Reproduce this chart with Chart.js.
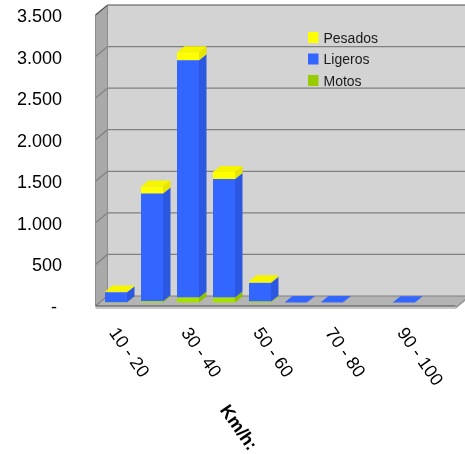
<!DOCTYPE html>
<html>
<head>
<meta charset="utf-8">
<style>
html, body { margin: 0; padding: 0; background: #fff; }
#chart_box { width: 465px; height: 454px; }
</style>
</head>
<body>
<div id="chart_box"><canvas id="myChart"></canvas></div>

<script src="https://cdn.jsdelivr.net/npm/chart.js"></script>
<script>
const categories = ['10 - 20', '20 - 30', '30 - 40', '40 - 50', '50 - 60', '60 - 70', '70 - 80', '80 - 90', '90 - 100', '100 - 110'];
const tickLabels = ['10 - 20', '', '30 - 40', '', '50 - 60', '', '70 - 80', '', '90 - 100', ''];
const motos = [3, 15, 60, 60, 12, 0, 0, 0, 0, 0];
const ligeros = [120, 1295, 2855, 1425, 225, 6, 5, 0, 4, 0];
const pesados = [10, 85, 95, 85, 20, 0, 0, 0, 0, 0];
const yTicks = { 0: '- ', 500: '500', 1000: '1.000', 1500: '1.500', 2000: '2.000', 2500: '2.500', 3000: '3.000', 3500: '3.500' };
const axisTitle = 'Km/h:';

const wallDepth = { x: 12, y: 10 };
const barShift = { x: 2.5, y: 3.5 };
const barDepth = { x: 7.5, y: 6 };
const labelAngle = 55 * Math.PI / 180;

function poly(c, pts, fill) {
  c.fillStyle = fill;
  c.beginPath();
  pts.forEach((p, i) => i ? c.lineTo(p[0], p[1]) : c.moveTo(p[0], p[1]));
  c.closePath();
  c.fill();
}

// back wall, side wall, floor and gridlines
const walls = {
  id: 'walls',
  beforeDatasetsDraw(chart) {
    const c = chart.ctx, a = chart.chartArea, y = chart.scales.y;
    const dx = wallDepth.x, dy = wallDepth.y;
    c.save();
    poly(c, [[a.left + dx, a.top - dy], [a.right + dx, a.top - dy], [a.right + dx, a.bottom - dy], [a.left + dx, a.bottom - dy]], '#d3d3d3');
    poly(c, [[a.left, a.top], [a.left + dx, a.top - dy], [a.left + dx, a.bottom - dy], [a.left, a.bottom]], '#a9a9a9');
    poly(c, [[a.left, a.bottom], [a.left + dx, a.bottom - dy], [a.right + dx, a.bottom - dy], [a.right, a.bottom]], '#b4b4b4');
    poly(c, [[a.left, a.bottom], [a.right, a.bottom], [a.right, a.bottom + 3], [a.left, a.bottom + 3]], '#c8c8c8');
    poly(c, [[a.right, a.bottom], [a.right + dx, a.bottom - dy], [a.right + dx, a.bottom - dy + 3], [a.right, a.bottom + 3]], '#9a9a9a');

    y.ticks.forEach(t => {
      const py = y.getPixelForValue(t.value);
      c.strokeStyle = t.value === 3500 ? '#505050' : '#808080';
      c.lineWidth = 1.2;
      c.beginPath();
      c.moveTo(a.left, py);
      c.lineTo(a.left + dx, py - dy);
      c.lineTo(a.right + dx, py - dy);
      c.stroke();
    });
    c.strokeStyle = '#8c8c8c';
    c.lineWidth = 1;
    c.beginPath();
    c.moveTo(a.left, a.top);
    c.lineTo(a.left, a.bottom);
    c.moveTo(a.left + dx, a.top - dy);
    c.lineTo(a.left + dx, a.bottom - dy);
    c.stroke();
    c.strokeStyle = '#505050';
    c.beginPath();
    c.moveTo(a.left, a.bottom);
    c.lineTo(a.right, a.bottom);
    c.stroke();
    c.restore();

    c.save();
    c.translate(barShift.x, -barShift.y);
  },
  // side and top faces of every stacked bar, still in the shifted frame
  afterDatasetsDraw(chart) {
    const c = chart.ctx;
    const dx = barDepth.x, dy = barDepth.y;
    const sets = chart.data.datasets;
    categories.forEach((_, i) => {
      let topSet = -1;
      sets.forEach((ds, k) => { if (ds.data[i] > 0) topSet = k; });
      sets.forEach((ds, k) => {
        if (!(ds.data[i] > 0)) return;
        const el = chart.getDatasetMeta(k).data[i];
        const r = el.x + el.width / 2, l = el.x - el.width / 2;
        poly(c, [[r, el.y], [r + dx, el.y - dy], [r + dx, el.base - dy], [r, el.base]], ds.sideColor);
        if (k === topSet) {
          poly(c, [[l, el.y], [l + dx, el.y - dy], [r + dx, el.y - dy], [r, el.y]], ds.topColor);
        }
      });
    });
    c.restore();
  },
  // rotated x labels, axis title and the legend inside the plot
  afterDraw(chart) {
    const c = chart.ctx, x = chart.scales.x;
    c.save();
    c.fillStyle = '#000';
    c.font = '18px "Liberation Sans"';
    c.textAlign = 'left';
    c.textBaseline = 'middle';
    tickLabels.forEach((label, i) => {
      if (!label) return;
      c.save();
      c.translate(x.getPixelForValue(i) - 1, 330);
      c.rotate(labelAngle);
      c.fillText(label, 0, 0);
      c.restore();
    });
    c.save();
    c.translate(238, 428);
    c.rotate(labelAngle);
    c.textAlign = 'center';
    c.font = 'bold 18px "Liberation Sans"';
    c.fillText(axisTitle, 0, 0);
    c.restore();

    c.font = '14px "Liberation Sans"';
    [...chart.data.datasets].reverse().forEach((ds, i) => {
      const ly = 37.5 + i * 21.5;
      c.fillStyle = ds.legendColor;
      c.fillRect(308, ly - 5.5, 10.5, 11);
      c.fillStyle = '#1a1a1a';
      c.fillText(ds.label, 323.5, ly + 1.5);
    });
    c.restore();
  }
};

new Chart(document.getElementById('myChart'), {
  type: 'bar',
  data: {
    labels: categories,
    datasets: [
      { label: 'Motos', data: motos, backgroundColor: '#a6e000', sideColor: '#8fc000', topColor: '#b4ea10', legendColor: '#99cc00' },
      { label: 'Ligeros', data: ligeros, backgroundColor: '#3366ff', sideColor: '#2c57e0', topColor: '#3366ff', legendColor: '#3366ff' },
      { label: 'Pesados', data: pesados, backgroundColor: '#ffff00', sideColor: '#e5e500', topColor: '#f5f500', legendColor: '#ffff00' }
    ]
  },
  plugins: [walls],
  options: {
    responsive: true,
    maintainAspectRatio: false,
    animation: false,
    layout: { padding: { top: 15, right: 9.5, left: 0, bottom: 0 } },
    datasets: { bar: { barPercentage: 0.611, categoryPercentage: 1, clip: false } },
    plugins: {
      tooltip: { enabled: false },
      legend: { display: false }
    },
    scales: {
      x: {
        stacked: true,
        grid: { display: false },
        border: { display: false },
        ticks: { display: false },
        afterFit(s) { s.height = 454 - 306; s.paddingLeft = 0; s.paddingRight = 0; }
      },
      y: {
        stacked: true,
        min: 0,
        max: 3500,
        grid: { display: false },
        border: { display: false },
        ticks: {
          stepSize: 500,
          padding: 25.5,
          labelOffset: 2,
          color: '#000',
          font: { family: '"Liberation Sans"', size: 18 },
          callback: v => yTicks[v]
        },
        afterFit(s) { s.width = 95.5; s.paddingTop = 0; s.paddingBottom = 0; }
      }
    }
  }
});
</script>
</body>
</html>
